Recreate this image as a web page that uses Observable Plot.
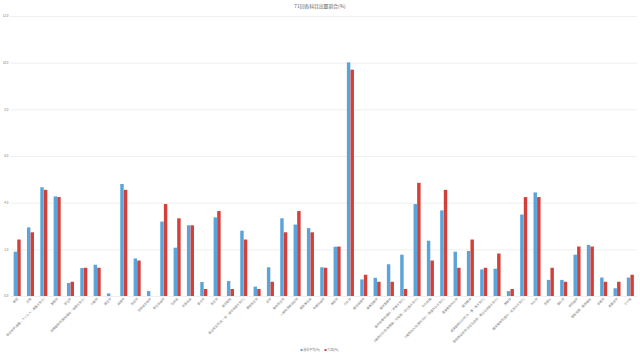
<!DOCTYPE html>
<html><head><meta charset="utf-8">
<script src="https://cdn.jsdelivr.net/npm/d3@7"></script>
<script src="https://cdn.jsdelivr.net/npm/@observablehq/plot@0.6"></script>
<style>
body{margin:0;background:#fff;}
#wrap{width:640px;height:356px;overflow:hidden;background:#fff;}
svg{display:block;}
</style></head>
<body><div id="wrap"></div>
<script>
const title = "71回各科目出題割合(%)";
const seriesNames = ["過去平均(%)", "71回(%)"];
const seriesColors = ["#5ba4d9", "#d2403a"];
const categories = [
  "解剖","生理","微生物学(細菌・ウイルス・真菌を含む)","薬理学","遺伝学",
  "実験動物学(動物福祉・倫理を含む)","行動学","発生学","病理学","免疫学",
  "放射線生物学","寄生虫病学","伝染病","家禽疾病","毒性学",
  "衛生学","野生動物","食品衛生学(乳・肉・食鳥検査を含む)","環境衛生学","疫学",
  "動物衛生学","人獣共通感染症学","獣医事法規","魚類疾病学","麻酔学",
  "内科学","臨床病理学","画像診断学","臨床薬理学","臨床栄養学(飼料・栄養を含む)",
  "小動物内科学(循環器・呼吸器・消化器を含む)","外科総論","小動物外科学(整形外科・軟部外科を含む)","産業動物外科学","臨床繁殖",
  "産業動物内科学(牛・豚・馬を含む)","動物感染症学(法定伝染病・届出伝染病を含む)","腫瘍学","臨床繁殖学(産科・乳房炎を含む)","外科学",
  "皮膚科","眼科学","神経病学","獣医倫理・動物福祉","栄養学",
  "馬臨床学","その他"
];
const pastAvg = [1.90,2.94,4.66,4.27,0.56,1.20,1.34,0.11,4.80,1.61,
  0.21,3.19,2.07,3.03,0.60,3.37,0.64,2.80,0.40,1.23,
  3.33,3.06,2.91,1.23,2.11,10.01,0.71,0.78,1.36,1.77,
  3.94,2.37,3.67,1.90,1.93,1.14,1.17,0.21,3.49,4.44,
  0.69,0.69,1.77,2.19,0.79,0.33,0.79];
const exam71 = [2.42,2.73,4.55,4.24,0.61,1.21,1.21,0,4.55,1.52,
  0,3.94,3.33,3.03,0.30,3.64,0.30,2.42,0.30,0.61,
  2.73,3.64,2.73,1.21,2.12,9.70,0.91,0.61,0.61,0.30,
  4.85,1.52,4.55,1.21,2.42,1.21,1.82,0.30,4.24,4.24,
  1.21,0.61,2.12,2.12,0.61,0.61,0.91];
const yTicks = [0,2,4,6,8,10,12];

const data = [];
categories.forEach((c,i)=>{
  data.push({category:c, series:seriesNames[0], value:pastAvg[i]});
  data.push({category:c, series:seriesNames[1], value:exam71[i]});
});

const font = "'Noto Sans CJK JP', 'Noto Sans', sans-serif";
const wrap = d3.select("#wrap");

// title
const ts = wrap.append("svg").attr("width",640).attr("height",14);
ts.append("text").attr("x",320).attr("y",8).attr("text-anchor","middle")
  .attr("font-family",font).attr("font-size","4.8px").attr("fill","#595959").text(title);

const chart = Plot.plot({
  width: 640, height: 330,
  marginTop: 2, marginBottom: 48, marginLeft: 10.5, marginRight: 3,
  style: {fontFamily: font, fontSize: "3px", color: "#7a7a7a", background: "#fff", overflow: "visible"},
  fx: {domain: categories, padding: 0, round: false, label: null, tickRotate: -45, tickSize: 0, tickPadding: 2},
  x: {domain: seriesNames, axis: null, round: false, paddingInner: 0.05, paddingOuter: 0.87},
  y: {domain: [0, 12], ticks: yTicks, tickFormat: d => d.toFixed(1), label: null, tickSize: 0, tickPadding: 2.5},
  color: {domain: seriesNames, range: seriesColors},
  marks: [
    Plot.gridY(yTicks, {stroke: "#e4e4e4", strokeOpacity: 1, strokeWidth: 0.6}),
    Plot.barY(data, {fx: "category", x: "series", y: "value", fill: "series"})
  ]
});
wrap.node().appendChild(chart);

// legend
const ls = wrap.append("svg").attr("width",640).attr("height",12);
const lx = [300.5, 324.5];
seriesNames.forEach((s,i)=>{
  ls.append("rect").attr("x",lx[i]).attr("y",5).attr("width",2).attr("height",2).attr("fill",seriesColors[i]);
  ls.append("text").attr("x",lx[i]+2.8).attr("y",7.1).attr("font-family",font).attr("font-size","3px")
    .attr("fill","#7a7a7a").text(s);
});
</script></body></html>
